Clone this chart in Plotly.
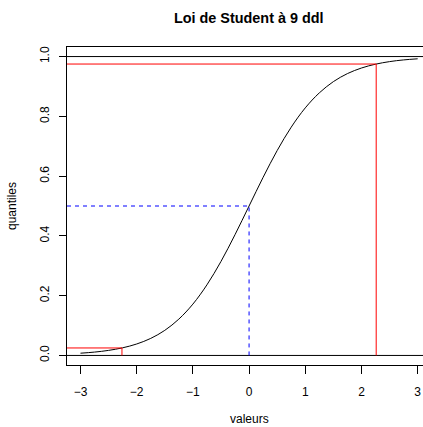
import plotly.graph_objects as go

# Student t (9 df) cumulative distribution
x_vals = [-3.0, -2.75, -2.5, -2.25, -2.0, -1.75, -1.5, -1.25, -1.0, -0.75, -0.5, -0.25,
          0.0, 0.25, 0.5, 0.75, 1.0, 1.25, 1.5, 1.75, 2.0, 2.25, 2.5, 2.75, 3.0]
y_vals = [0.0075, 0.0112, 0.0169, 0.0255, 0.0383, 0.0570, 0.0839, 0.1215, 0.1717, 0.2362, 0.3145, 0.4041,
          0.5, 0.5959, 0.6855, 0.7638, 0.8283, 0.8785, 0.9161, 0.9430, 0.9617, 0.9745, 0.9831, 0.9888, 0.9925]

# quantiles highlighted
q_low, p_low = -2.262, 0.025
q_mid, p_mid = 0.0, 0.5
q_high, p_high = 2.262, 0.975
h_lines = [0, 1]

x_ticks = [-3, -2, -1, 0, 1, 2, 3]
x_tick_text = ["\u22123", "\u22122", "\u22121", "0", "1", "2", "3"]
y_ticks = [0.0, 0.2, 0.4, 0.6, 0.8, 1.0]
y_tick_text = ["0.0", "0.2", "0.4", "0.6", "0.8", "1.0"]

FONT = "Liberation Sans, Arial, Helvetica, sans-serif"
X0, X1 = -3.24, 3.095

fig = go.Figure()
fig.add_trace(go.Scatter(x=x_vals, y=y_vals, mode="lines", line=dict(color="black", width=1, shape="spline"),
                         hoverinfo="skip", showlegend=False))

shapes = []
for h in h_lines:
    shapes.append(dict(type="line", xref="paper", yref="y", x0=0, x1=1, y0=h, y1=h,
                       line=dict(color="black", width=1)))
# red quantile segments
for q, p in [(q_low, p_low), (q_high, p_high)]:
    shapes.append(dict(type="line", xref="paper", yref="y", x0=0, x1=(q - X0) / (X1 - X0), y0=p, y1=p,
                       line=dict(color="red", width=1)))
    shapes.append(dict(type="line", xref="x", yref="y", x0=q, x1=q, y0=0, y1=p,
                       line=dict(color="red", width=1)))
# blue dashed median
shapes.append(dict(type="line", xref="paper", yref="y", x0=0, x1=(q_mid - X0) / (X1 - X0), y0=p_mid, y1=p_mid,
                   line=dict(color="blue", width=1, dash="4px,4px")))
shapes.append(dict(type="line", xref="x", yref="y", x0=q_mid, x1=q_mid, y0=0, y1=p_mid,
                   line=dict(color="blue", width=1, dash="4px,4px")))

top, bottom = 47, 365
ph = bottom - top

def py(p):
    return (bottom - p) / ph

annotations = [
    dict(text="<b>Loi de Student à 9 ddl</b>", x=(249 - 67) / 356, y=py(18), xref="paper", yref="paper",
         showarrow=False, xanchor="center", yanchor="middle", font=dict(size=14.4, family=FONT, color="black")),
    dict(text="valeurs", x=(249 - 67) / 356, y=py(419), xref="paper", yref="paper",
         showarrow=False, xanchor="center", yanchor="middle", font=dict(size=12, family=FONT, color="black")),
    dict(text="quantiles", x=(12 - 67) / 356, y=py(206), xref="paper", yref="paper", textangle=-90,
         showarrow=False, xanchor="center", yanchor="middle", font=dict(size=12, family=FONT, color="black")),
]

fig.update_layout(
    width=423, height=427,
    margin=dict(l=67, r=0, t=top, b=427 - bottom, pad=0, autoexpand=False),
    paper_bgcolor="white", plot_bgcolor="white",
    shapes=shapes, annotations=annotations,
    font=dict(family=FONT, size=12, color="black"),
    xaxis=dict(range=[X0, X1], tickvals=x_ticks, ticktext=x_tick_text, showgrid=False, zeroline=False,
               showline=True, mirror=True, linecolor="black", linewidth=1, ticks="outside", ticklen=8,
               tickcolor="black", tickwidth=1, ticklabelstandoff=8, automargin=False),
    yaxis=dict(range=[-0.032, 1.032], tickvals=y_ticks, ticktext=y_tick_text, showgrid=False, zeroline=False,
               showline=True, linecolor="black", linewidth=1, ticks="outside", ticklen=7, tickangle=-90,
               tickcolor="black", tickwidth=1, ticklabelstandoff=5, automargin=False),
)

fig.write_html("out.html", config={"displayModeBar": False},
               post_script="document.body.style.margin='0';document.body.style.overflow='hidden';")
